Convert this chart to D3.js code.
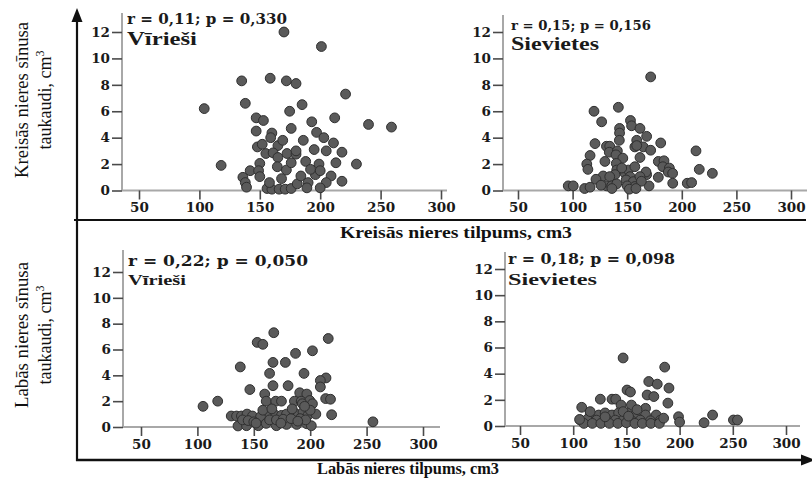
<!DOCTYPE html>
<html>
<head>
<meta charset="utf-8">
<script src="https://cdn.jsdelivr.net/npm/d3@7"></script>
<style>
  html, body { margin: 0; padding: 0; background: #fff; }
  svg { display: block; }
</style>
</head>
<body>
<svg id="chart" width="812" height="478"></svg>
<script>
// Kidney volume (cm3) against renal sinus fat (cm3), by sex and side.
const xTicks = [50, 100, 150, 200, 250, 300];
const yTicks = [0, 2, 4, 6, 8, 10, 12];

const leftTitle = "Kreisās nieres tilpums, cm3";
const rightTitle = "Labās nieres tilpums, cm3";
const leftYTitle = ["Kreisās nieres sīnusa", "taukaudi, cm"];
const rightYTitle = ["Labās nieres sīnusa", "taukaudi, cm"];

const panelGroups = ["Vīrieši", "Sievietes", "Vīrieši", "Sievietes"];
const panelStats = ["r = 0,11; p = 0,330", "r = 0,15; p = 0,156", "r = 0,22; p = 0,050", "r = 0,18; p = 0,098"];

// Left kidney, men: volume and sinus fat
const leftMenVol = [170, 201, 104, 135, 158.6, 172, 180, 221, 138, 174.7, 118, 147, 153, 147, 160, 159, 148, 152, 165, 169, 176,
  155, 161, 165, 172.5, 180, 150, 164.5, 172, 142, 149, 136, 150, 138, 139, 156, 160, 166, 171, 176, 181,
  240, 259, 212, 197, 186, 180, 195, 205, 218, 176, 188, 199, 213, 230, 184, 196, 209, 190, 205, 218, 189, 200,
  185, 193, 203, 211, 192, 200, 168, 158];
const leftMenFat = [12.0, 10.9, 6.2, 8.3, 8.5, 8.3, 8.1, 7.3, 6.6, 6.0, 1.9, 5.5, 5.3, 4.5, 4.35, 4.0, 3.3, 3.5, 3.4, 3.8, 4.7,
  2.8, 2.85, 2.5, 2.8, 2.75, 2.05, 1.8, 1.55, 1.5, 1.5, 1.0, 1.05, 0.6, 0.25, 0.15, 0.1, 0.1, 0.1, 0.15, 0.5,
  5.0, 4.8, 5.5, 4.4, 3.8, 3.0, 3.1, 3.0, 2.9, 2.1, 2.2, 2.0, 2.1, 2.0, 1.1, 1.2, 1.1, 0.6, 0.6, 0.7, 0.2, 0.2,
  6.5, 5.2, 4.0, 3.6, 1.6, 1.5, 0.9, 0.6];

// Left kidney, women
const leftWomenVol = [171.5, 119.6, 141.9, 126.6, 153, 154, 161.7, 143, 143, 142.8, 158.7, 167.8, 120.5, 131, 134, 157, 164.7,
  180.7, 171.5, 213, 133.6, 141, 139.7, 146, 161.7, 116, 129.6, 140, 113, 114, 128, 121.4, 148, 151, 157, 152.6,
  149, 155.6, 150, 157, 167.8, 167.2, 170, 161.7, 140.4, 145, 138.8, 134, 178.5, 183.7, 182.6, 188.6, 187.6, 191.6,
  178.5, 191.7, 205, 209, 216, 228, 96, 100.6, 111, 116, 131, 135.8, 140.4, 158.7, 136, 163, 152, 158, 126];
const leftWomenFat = [8.6, 6.0, 6.3, 5.2, 5.3, 4.9, 4.7, 4.7, 4.35, 3.8, 3.8, 4.1, 3.55, 3.35, 3.35, 3.3, 3.3,
  3.6, 3.05, 3.0, 2.9, 3.0, 2.7, 2.45, 2.5, 2.65, 2.2, 2.05, 2.0, 1.6, 1.1, 0.85, 1.3, 1.55, 1.8, 1.05,
  0.8, 0.67, 0.35, 0.3, 1.2, 1.4, 0.35, 1.05, 1.55, 1.7, 1.2, 1.05, 2.2, 2.25, 1.8, 1.7, 1.4, 1.3,
  1.0, 0.55, 0.55, 0.6, 1.6, 1.3, 0.35, 0.35, 0.15, 0.25, 0.35, 0.35, 0.5, 3.4, 0.15, 0.7, 0.1, 0.15, 0.4];

// Right kidney, men
const rightMenVol = [167.7, 153, 158, 216, 202, 187, 167, 178, 138, 164, 194.5, 214, 209, 209, 167, 180.4, 146.5, 159.7, 190.7,
  197, 213.7, 218, 118, 105, 161, 169.5, 174.5, 186, 192, 199.6, 202, 193, 130, 134.7, 139, 144, 148.8, 156, 164,
  169.5, 174.5, 179, 186, 193.6, 198, 205, 219, 136, 143.5, 154, 161, 170, 179, 188, 197, 201, 164, 170, 176, 183,
  191, 196, 140, 145, 150, 255.6, 158, 166, 184, 200, 152, 174, 189, 195];
const rightMenFat = [7.3, 6.55, 6.4, 6.85, 5.9, 5.7, 5.0, 5.0, 4.65, 4.15, 4.15, 3.8, 3.6, 3.1, 3.2, 3.2, 2.9, 2.55, 2.65,
  2.55, 2.2, 2.15, 2.0, 1.6, 2.0, 2.0, 2.0, 2.0, 2.0, 2.05, 1.8, 1.8, 0.85, 0.85, 0.85, 1.0, 0.85, 0.8, 1.06,
  0.9, 0.9, 1.0, 1.1, 1.15, 0.9, 1.0, 0.95, 0.08, 0.1, 0.1, 0.28, 0.1, 0.2, 0.2, 0.25, 0.1, 0.55, 0.55, 0.6, 0.65,
  0.65, 0.55, 0.55, 0.5, 0.4, 0.4, 1.3, 1.4, 1.4, 1.3, 0.3, 0.3, 0.45, 1.6];

// Right kidney, women
const rightWomenVol = [146.9, 186, 171, 179, 190, 150.6, 153.8, 169.5, 175.8, 189, 125.5, 136.5, 140, 108, 145, 154.7, 168,
  116, 124, 130, 136.5, 142.7, 150.6, 158.5, 168, 178, 106.6, 113, 122, 132, 139.6, 147.5, 155, 163, 172.6, 182,
  199, 231, 223, 110, 118, 126, 134, 142, 150, 158, 165, 173, 181, 200, 250.6, 254.4, 116, 106, 147, 160, 130, 152, 185];
const rightWomenFat = [5.2, 4.5, 3.4, 3.2, 2.9, 2.75, 2.6, 2.37, 2.25, 1.75, 2.05, 2.05, 2.05, 1.43, 1.6, 1.6, 1.35,
  1.0, 0.84, 1.0, 0.84, 1.0, 1.0, 0.84, 0.84, 0.84, 0.46, 0.5, 0.45, 0.46, 0.45, 0.5, 0.4, 0.45, 0.4, 0.45,
  0.71, 0.84, 0.25, 0.2, 0.2, 0.2, 0.2, 0.2, 0.25, 0.2, 0.2, 0.2, 0.2, 0.3, 0.46, 0.46, 1.1, 0.5, 1.1, 1.25, 0.7, 0.75, 0.6];

const panelVol = [leftMenVol, leftWomenVol, rightMenVol, rightWomenVol];
const panelFat = [leftMenFat, leftWomenFat, rightMenFat, rightWomenFat];

// ---- layout ----
const svg = d3.select("#chart");
const serif = "'Liberation Serif', 'Times New Roman', serif";
const tickFont = "'DejaVu Serif', serif";

const layouts = [
  { x50: 139, x300: 441, y0: 190.5, y12: 32, axisX: 122, lineEnd: 447, top: 13,
    statX: 127, statY: 24, statLen: 160, statSize: 15, grpY: 45, grpLen: 70, grpSize: 18 },
  { x50: 518, x300: 791, y0: 190.5, y12: 32, axisX: 503, lineEnd: 807, top: 15,
    statX: 511, statY: 30, statLen: 140, statSize: 13.5, grpY: 50, grpLen: 88, grpSize: 18 },
  { x50: 141, x300: 423, y0: 427, y12: 272, axisX: 123, lineEnd: 440, top: 250,
    statX: 128, statY: 266, statLen: 180, statSize: 14, grpY: 285, grpLen: 58, grpSize: 15 },
  { x50: 520, x300: 786, y0: 426, y12: 269, axisX: 505, lineEnd: 800, top: 252,
    statX: 508, statY: 264, statLen: 167, statSize: 14, grpY: 285, grpLen: 89, grpSize: 17 }
];

layouts.forEach((L, i) => {
  const x = d3.scaleLinear().domain([50, 300]).range([L.x50, L.x300]);
  const y = d3.scaleLinear().domain([0, 12]).range([L.y0, L.y12]);
  const g = svg.append("g");

  // axis lines
  g.append("line").attr("x1", L.axisX).attr("x2", L.axisX).attr("y1", L.top).attr("y2", L.y0)
    .attr("stroke", "#a8a8a8").attr("stroke-width", 2);
  g.append("line").attr("x1", L.axisX).attr("x2", L.lineEnd).attr("y1", L.y0).attr("y2", L.y0)
    .attr("stroke", "#a8a8a8").attr("stroke-width", 2);

  const yAxis = g.append("g").attr("transform", `translate(${L.axisX},0)`)
    .call(d3.axisLeft(y).tickValues(yTicks).tickSize(10).tickPadding(2).tickFormat(d3.format("d")));
  const xAxis = g.append("g").attr("transform", `translate(0,${L.y0})`)
    .call(d3.axisBottom(x).tickValues(xTicks).tickSize(9).tickPadding(3).tickFormat(d3.format("d")));
  [yAxis, xAxis].forEach(a => {
    a.select(".domain").remove();
    a.selectAll(".tick line").attr("stroke", "#4a4a4a").attr("stroke-width", 1.6);
    a.selectAll(".tick text").attr("fill", "#1a1a1a").attr("font-family", tickFont)
      .attr("font-weight", "bold").attr("font-size", 13.5);
  });

  // points
  const vol = panelVol[i], fat = panelFat[i];
  g.append("g").selectAll("circle").data(vol.map((v, k) => [v, fat[k]])).join("circle")
    .attr("cx", d => x(d[0])).attr("cy", d => y(d[1])).attr("r", 4.9)
    .attr("fill", "#5a5a5a").attr("stroke", "#2f2f2f").attr("stroke-width", 1);

  // annotations
  g.append("text").attr("x", L.statX).attr("y", L.statY).text(panelStats[i])
    .attr("font-family", tickFont).attr("font-weight", "bold").attr("font-size", L.statSize)
    .attr("fill", "#1a1a1a").attr("textLength", L.statLen).attr("lengthAdjust", "spacingAndGlyphs");
  g.append("text").attr("x", L.statX).attr("y", L.grpY).text(panelGroups[i])
    .attr("font-family", serif).attr("font-weight", "bold").attr("font-size", L.grpSize)
    .attr("fill", "#1a1a1a").attr("textLength", L.grpLen).attr("lengthAdjust", "spacingAndGlyphs");
});

// ---- outer frame with arrows ----
const frame = svg.append("g").attr("stroke", "#111");
frame.append("line").attr("x1", 77).attr("x2", 77).attr("y1", 18).attr("y2", 461).attr("stroke-width", 2.2);
frame.append("line").attr("x1", 74).attr("x2", 806).attr("y1", 220).attr("y2", 220).attr("stroke-width", 2.2);
frame.append("line").attr("x1", 76).attr("x2", 805).attr("y1", 460).attr("y2", 460).attr("stroke-width", 2.4);
svg.append("path").attr("d", "M77,8 L71.5,22 L82.5,22 Z").attr("fill", "#111");
svg.append("path").attr("d", "M815,460 L801,454.5 L801,465.5 Z").attr("fill", "#111");

// ---- axis titles ----
svg.append("text").attr("x", 456).attr("y", 238).attr("text-anchor", "middle").text(leftTitle)
  .attr("font-family", serif).attr("font-weight", "bold").attr("font-size", 17.5).attr("fill", "#111")
  .attr("textLength", 232).attr("lengthAdjust", "spacingAndGlyphs");
svg.append("text").attr("x", 408).attr("y", 474).attr("text-anchor", "middle").text(rightTitle)
  .attr("font-family", serif).attr("font-weight", "bold").attr("font-size", 17.5).attr("fill", "#111")
  .attr("textLength", 182).attr("lengthAdjust", "spacingAndGlyphs");

function yTitle(lines, cy, len1, len2) {
  const t = svg.append("g").attr("transform", `translate(0,${cy}) rotate(-90)`)
    .attr("font-family", serif).attr("font-size", 18).attr("fill", "#111");
  t.append("text").attr("x", 0).attr("y", 28).attr("text-anchor", "middle").text(lines[0])
    .attr("textLength", len1).attr("lengthAdjust", "spacingAndGlyphs");
  const t2 = t.append("text").attr("x", 0).attr("y", 51).attr("text-anchor", "middle");
  t2.append("tspan").text(lines[1]);
  t2.append("tspan").attr("dy", -7).attr("font-size", 12).text("3");
}
yTitle(leftYTitle, 100, 156, 0);
yTitle(rightYTitle, 335, 146, 0);
</script>
</body>
</html>
